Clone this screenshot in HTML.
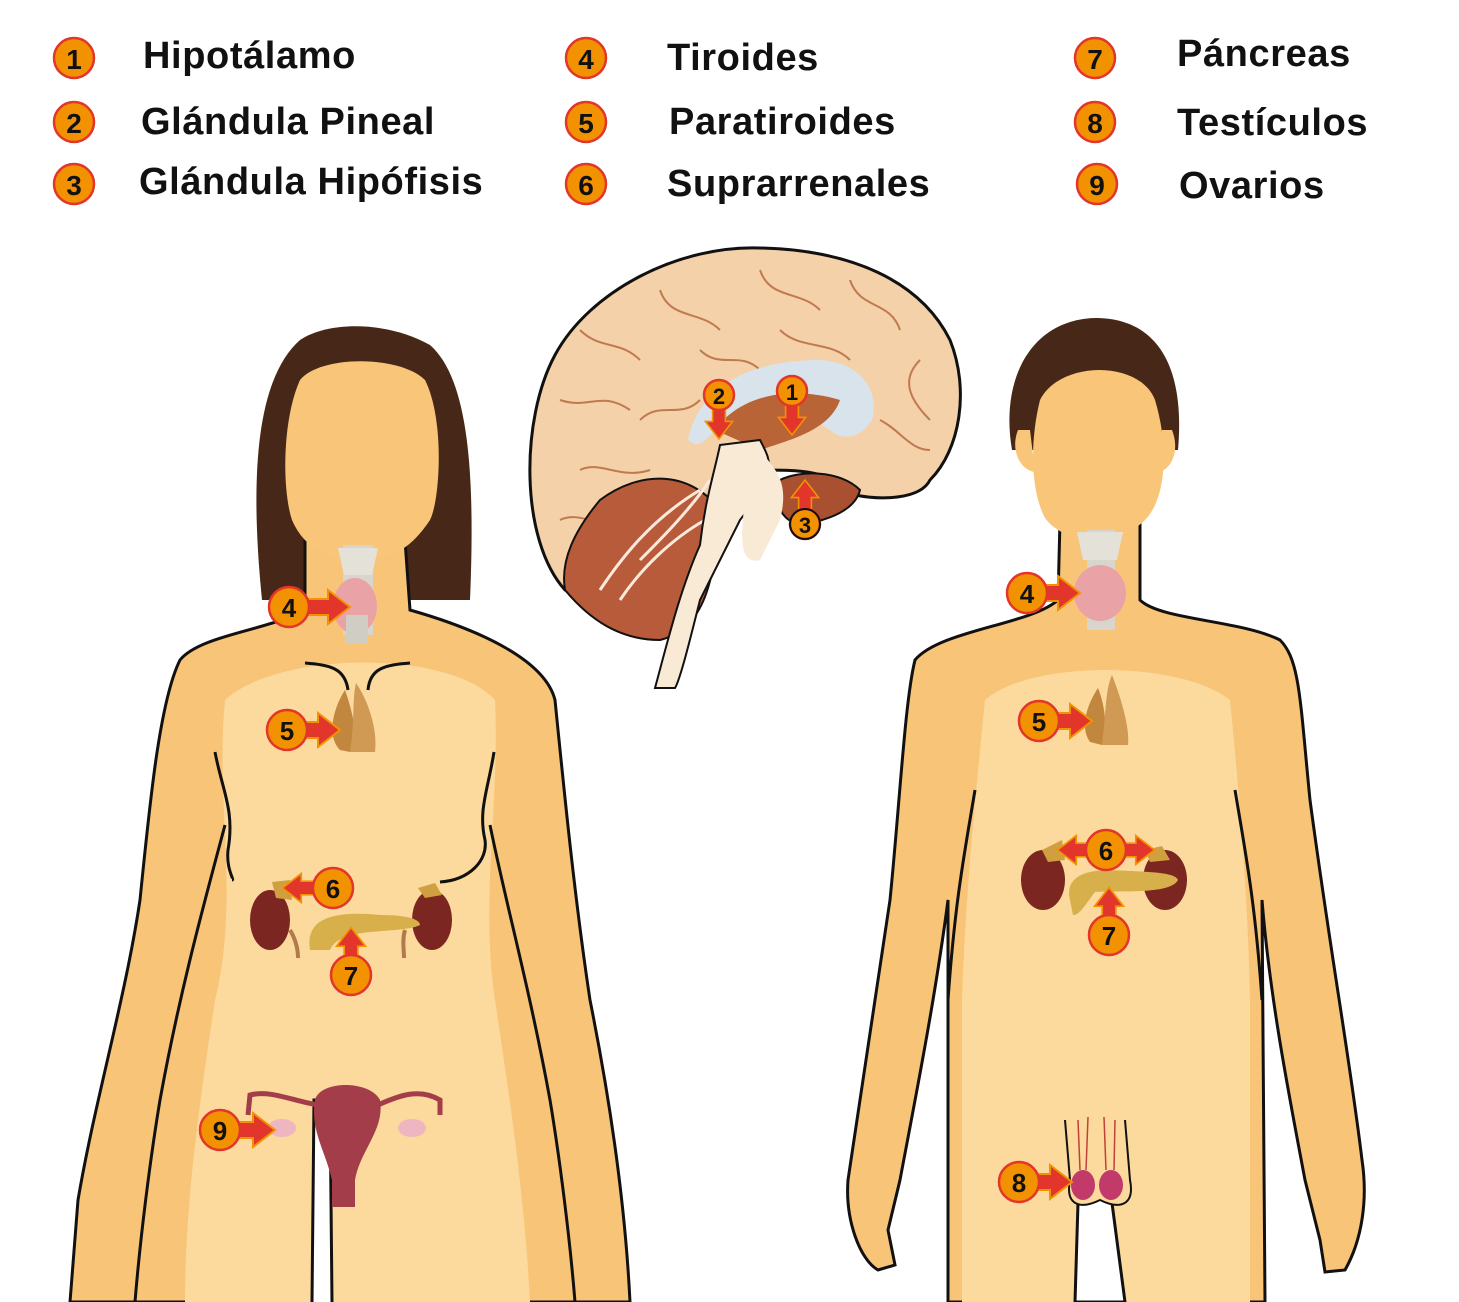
<!DOCTYPE html>
<html><head><meta charset="utf-8"><style>
html,body{margin:0;padding:0;background:#fff}
svg{display:block}
.lg{font-family:"Liberation Sans",sans-serif;font-weight:bold;font-size:38px;letter-spacing:0.6px;fill:#111}
.bn{font-family:"Liberation Sans",sans-serif;font-weight:bold;fill:#111;text-anchor:middle}
</style></head><body>
<svg width="1459" height="1302" viewBox="0 0 1459 1302" xmlns="http://www.w3.org/2000/svg">
<defs>
<g id="b"><circle r="20" fill="#f39200" stroke="#e2352b" stroke-width="2.5"/></g>
<g id="bs"><circle r="15" fill="#f39200" stroke="#e2352b" stroke-width="2.5"/></g>
<g id="ar"><polygon points="0,-8 28,-8 28,-17 50,0 28,17 28,8 0,8" fill="#e2352b" stroke="#f39200" stroke-width="2"/></g>
</defs>

<!-- legend -->
<use href="#b" x="74" y="58"/><text class="bn" x="74" y="69" font-size="28">1</text>
<use href="#b" x="74" y="122"/><text class="bn" x="74" y="133" font-size="28">2</text>
<use href="#b" x="74" y="184"/><text class="bn" x="74" y="195" font-size="28">3</text>
<text class="lg" x="143" y="68">Hipotálamo</text>
<text class="lg" x="141" y="134">Glándula Pineal</text>
<text class="lg" x="139" y="194">Glándula Hipófisis</text>
<use href="#b" x="586" y="58"/><text class="bn" x="586" y="69" font-size="28">4</text>
<use href="#b" x="586" y="122"/><text class="bn" x="586" y="133" font-size="28">5</text>
<use href="#b" x="586" y="184"/><text class="bn" x="586" y="195" font-size="28">6</text>
<text class="lg" x="667" y="70">Tiroides</text>
<text class="lg" x="669" y="134">Paratiroides</text>
<text class="lg" x="667" y="196">Suprarrenales</text>
<use href="#b" x="1095" y="58"/><text class="bn" x="1095" y="69" font-size="28">7</text>
<use href="#b" x="1095" y="122"/><text class="bn" x="1095" y="133" font-size="28">8</text>
<use href="#b" x="1097" y="184"/><text class="bn" x="1097" y="195" font-size="28">9</text>
<text class="lg" x="1177" y="66">Páncreas</text>
<text class="lg" x="1177" y="135">Testículos</text>
<text class="lg" x="1179" y="198">Ovarios</text>

<!-- ===== WOMAN ===== -->
<path d="M262,600 C250,480 255,380 300,340 C330,320 390,322 430,345 C470,380 475,480 470,600 Z" fill="#472818"/>
<path d="M305,540 L305,610 C270,630 200,635 180,660 C160,700 150,800 140,900 C125,1000 95,1100 78,1200 L70,1302 L630,1302 C625,1200 610,1100 590,1000 C575,900 565,800 555,700 C545,660 480,630 410,610 L405,540 Z" fill="#f8c477" stroke="#111" stroke-width="3"/>
<path d="M225,700 C215,800 240,900 215,1000 C200,1100 185,1200 185,1302 L530,1302 C525,1200 510,1100 495,1000 C480,900 500,800 495,700 C450,650 280,650 225,700 Z" fill="#fcd99c"/>
<path d="M315,1100 L330,1100 L332,1302 L312,1302 Z" fill="#fff"/>
<path d="M312,1302 L314,1100 L330,1100 L332,1302" fill="none" stroke="#111" stroke-width="3"/>
<path d="M215,752 C222,790 235,810 228,850 C226,870 235,880 232,880" fill="none" stroke="#111" stroke-width="3"/>
<path d="M494,752 C488,790 478,810 485,840 C488,860 470,880 440,882" fill="none" stroke="#111" stroke-width="3"/>
<path d="M225,825 C205,900 180,990 160,1100 C150,1160 140,1240 135,1302" fill="none" stroke="#111" stroke-width="3"/>
<path d="M490,825 C505,900 530,990 550,1100 C560,1160 570,1240 575,1302" fill="none" stroke="#111" stroke-width="3"/>
<path d="M305,663 C330,665 345,668 348,690 M410,663 C385,665 370,668 368,690" fill="none" stroke="#111" stroke-width="3"/>
<path d="M300,380 C320,355 400,355 425,380 C445,420 440,500 430,520 C410,550 390,560 360,560 C330,560 305,550 292,520 C282,490 282,420 300,380 Z" fill="#f9c679"/>
<path d="M296,355 L335,330 L360,345 L350,360 Z" fill="#472818"/>
<!-- thyroid woman -->
<rect x="343" y="545" width="30" height="90" fill="#d8d5cc"/>
<path d="M338,548 L378,548 L372,575 L344,575 Z" fill="#e4e1d8"/>
<ellipse cx="355" cy="606" rx="22" ry="28" fill="#e9a3a6"/>
<rect x="346" y="615" width="22" height="28" fill="#d0cdc4"/>
<!-- parathyroid woman -->
<path d="M340,750 C325,735 335,705 345,690 C352,710 360,740 350,752 Z" fill="#c2873f"/>
<path d="M350,752 C355,720 352,700 356,683 C368,700 378,730 375,752 Z" fill="#d09a55"/>
<!-- kidneys woman -->
<ellipse cx="270" cy="920" rx="20" ry="30" fill="#7c2621"/>
<ellipse cx="432" cy="920" rx="20" ry="30" fill="#7c2621"/>
<path d="M272,882 L290,880 L292,900 L276,898 Z" fill="#d0a040"/>
<path d="M418,888 L435,883 L442,895 L425,898 Z" fill="#d0a040"/>
<path d="M310,950 C305,920 330,910 380,915 C410,915 420,920 420,925 C400,935 340,925 330,950 Z" fill="#d7b04c"/>
<path d="M405,930 C402,940 404,950 404,958 M290,930 C296,940 298,950 298,958" stroke="#b07a4a" stroke-width="4" fill="none"/>
<!-- uterus -->
<path d="M315,1100 C320,1080 370,1080 380,1100 C385,1130 360,1150 355,1180 L355,1207 L332,1207 L332,1180 C325,1150 310,1130 315,1100 Z" fill="#a33d4a"/>
<path d="M318,1105 C290,1100 270,1090 250,1095 L248,1115 M378,1105 C400,1095 420,1088 440,1100 L440,1115" stroke="#a33d4a" stroke-width="5" fill="none"/>
<ellipse cx="282" cy="1128" rx="14" ry="9" fill="#eeb6c0"/>
<ellipse cx="412" cy="1128" rx="14" ry="9" fill="#eeb6c0"/>

<!-- ===== MAN ===== -->
<path d="M1012,450 C1000,380 1030,320 1095,318 C1160,318 1185,370 1178,450 Z" fill="#472818"/>
<path d="M1060,520 L1058,600 C1030,625 940,630 915,660 C905,700 900,800 890,900 C875,1000 860,1100 848,1180 C845,1220 860,1260 878,1270 L895,1265 L888,1230 L900,1180 C915,1100 935,1000 948,900 L948,1302 L1265,1302 L1262,900 C1270,1000 1290,1100 1305,1180 L1320,1240 L1325,1272 L1345,1270 C1362,1240 1368,1200 1362,1160 C1350,1060 1330,950 1310,800 C1300,700 1300,660 1280,640 C1240,620 1160,620 1140,600 L1140,520 Z" fill="#f8c477" stroke="#111" stroke-width="3"/>
<path d="M985,700 C975,800 965,900 962,1000 L962,1302 L1250,1302 L1250,1000 C1248,900 1240,800 1230,700 C1180,660 1030,660 985,700 Z" fill="#fcd99c"/>
<path d="M975,790 C965,850 955,900 948,1000" fill="none" stroke="#111" stroke-width="3"/>
<path d="M1235,790 C1245,850 1255,900 1262,1000" fill="none" stroke="#111" stroke-width="3"/>
<path d="M1078,1203 C1085,1198 1100,1196 1112,1203 L1125,1302 L1075,1302 Z" fill="#fff" stroke="#111" stroke-width="3"/>
<path d="M1040,400 C1060,360 1140,360 1155,400 C1170,450 1165,500 1145,520 C1130,535 1110,540 1095,540 C1075,540 1055,532 1045,518 C1030,490 1030,440 1040,400 Z" fill="#f9c679"/>
<path d="M1018,430 C1010,450 1020,470 1035,472 L1030,430 Z M1172,430 C1180,450 1172,470 1158,472 L1162,430 Z" fill="#f9c679"/>
<!-- thyroid man -->
<rect x="1087" y="530" width="28" height="100" fill="#d8d5cc"/>
<path d="M1077,532 L1123,532 L1117,560 L1083,560 Z" fill="#e4e1d8"/>
<ellipse cx="1100" cy="593" rx="26" ry="28" fill="#e9a3a6"/>
<!-- parathyroid man -->
<path d="M1090,742 C1078,725 1090,700 1098,688 C1105,705 1108,730 1102,745 Z" fill="#c2873f"/>
<path d="M1102,745 C1106,715 1105,690 1112,675 C1122,700 1130,730 1128,745 Z" fill="#d09a55"/>
<!-- kidneys man -->
<ellipse cx="1043" cy="880" rx="22" ry="30" fill="#7c2621"/>
<ellipse cx="1165" cy="880" rx="22" ry="30" fill="#7c2621"/>
<path d="M1042,850 L1062,840 L1065,860 L1048,862 Z M1145,850 L1162,846 L1170,860 L1150,862 Z" fill="#d0a040"/>
<path d="M1070,900 C1065,880 1080,870 1110,870 C1150,872 1175,872 1178,880 C1170,895 1120,890 1095,892 C1085,905 1080,915 1073,915 Z" fill="#d7b04c"/>
<!-- testes -->
<path d="M1065,1120 L1070,1180 C1065,1205 1080,1210 1100,1200 C1120,1210 1135,1205 1130,1180 L1125,1120" fill="#fcd99c" stroke="#111" stroke-width="2"/>
<ellipse cx="1083" cy="1185" rx="12" ry="15" fill="#c23a6a"/>
<ellipse cx="1111" cy="1185" rx="12" ry="15" fill="#c23a6a"/>
<path d="M1078,1120 L1080,1170 M1088,1117 L1086,1170 M1104,1117 L1106,1170 M1115,1120 L1114,1170" stroke="#c0403a" stroke-width="1.5" fill="none"/>

<!-- ===== BRAIN ===== -->
<path d="M565,590 C520,540 520,420 555,355 C590,290 680,245 760,248 C850,250 920,280 950,340 C970,390 960,450 930,480 C920,500 880,500 855,495 C830,470 800,470 760,470 L720,500 C690,560 660,600 620,600 Z" fill="#f4d1a8" stroke="#111" stroke-width="3"/>
<g fill="none" stroke="#c07a50" stroke-width="2">
<path d="M580,330 C600,350 620,340 640,360 M660,290 C670,320 700,310 720,330 M760,270 C770,300 800,290 820,310 M850,280 C860,310 890,300 900,330 M920,360 C900,380 910,400 930,420 M560,400 C590,410 600,390 630,410 M580,470 C600,460 620,480 650,470 M640,420 C660,400 680,420 700,400 M780,330 C800,350 830,340 850,360 M700,350 C720,370 740,350 760,370 M560,520 C580,510 600,530 620,520 M880,420 C900,430 910,450 930,450"/>
</g>
<path d="M565,590 C590,620 620,640 660,640 C700,630 715,590 720,510 C690,470 640,470 600,500 C575,530 560,560 565,590 Z" fill="#b85b3a" stroke="#111" stroke-width="2"/>
<path d="M600,590 C620,560 650,520 700,490 M620,600 C640,570 670,540 705,520 M640,560 C660,540 690,510 710,480" stroke="#fbe9dc" stroke-width="3" fill="none"/>
<path d="M780,480 C800,470 840,470 860,490 C855,510 830,520 800,525 C780,520 772,500 780,480 Z" fill="#a8502f" stroke="#111" stroke-width="2"/>
<path d="M688,440 C700,380 760,360 820,360 C860,362 880,390 872,420 C860,440 840,440 830,430 C810,415 760,410 720,425 C705,440 700,450 688,440 Z" fill="#d9e3eb"/>
<path d="M715,430 C740,395 790,385 840,400 C830,430 790,440 760,450 Z" fill="#b86437"/>
<path d="M720,445 L760,440 C770,460 780,470 740,520 L700,600 C690,640 680,680 675,688 L655,688 C668,640 680,590 700,545 C705,500 715,470 720,445 Z" fill="#f8ead4" stroke="#111" stroke-width="2"/>
<path d="M760,450 C775,470 790,480 780,520 C770,540 765,550 760,560 C740,565 740,540 745,500 C750,480 755,465 760,450 Z" fill="#f8ead4"/>

<!-- ===== ARROWS + BADGES ===== -->
<use href="#ar" transform="translate(300,607)"/><use href="#b" x="289" y="607"/><text class="bn" x="289" y="617" font-size="26">4</text>
<use href="#ar" transform="translate(290,730)"/><use href="#b" x="287" y="730"/><text class="bn" x="287" y="740" font-size="26">5</text>
<use href="#ar" transform="translate(325,888) scale(-0.85,0.85)"/><use href="#b" x="333" y="888"/><text class="bn" x="333" y="898" font-size="26">6</text>
<use href="#ar" transform="translate(351,970) rotate(-90) scale(0.85)"/><use href="#b" x="351" y="975"/><text class="bn" x="351" y="985" font-size="26">7</text>
<use href="#ar" transform="translate(225,1130)"/><use href="#b" x="220" y="1130"/><text class="bn" x="220" y="1140" font-size="26">9</text>

<use href="#ar" transform="translate(1030,593)"/><use href="#b" x="1027" y="593"/><text class="bn" x="1027" y="603" font-size="26">4</text>
<use href="#ar" transform="translate(1042,721)"/><use href="#b" x="1039" y="721"/><text class="bn" x="1039" y="731" font-size="26">5</text>
<use href="#ar" transform="translate(1100,850) scale(-0.85,0.85)"/><use href="#ar" transform="translate(1112,850) scale(0.85)"/><use href="#b" x="1106" y="850"/><text class="bn" x="1106" y="860" font-size="26">6</text>
<use href="#ar" transform="translate(1109,930) rotate(-90) scale(0.85)"/><use href="#b" x="1109" y="935"/><text class="bn" x="1109" y="945" font-size="26">7</text>
<use href="#ar" transform="translate(1022,1182)"/><use href="#b" x="1019" y="1182"/><text class="bn" x="1019" y="1192" font-size="26">8</text>

<use href="#ar" transform="translate(792,395) rotate(90) scale(0.8)"/><use href="#bs" x="792" y="391"/><text class="bn" x="792" y="400" font-size="22">1</text>
<use href="#ar" transform="translate(719,399) rotate(90) scale(0.8)"/><use href="#bs" x="719" y="395"/><text class="bn" x="719" y="404" font-size="22">2</text>
<use href="#ar" transform="translate(805,520) rotate(-90) scale(0.8)"/><use href="#bs" x="805" y="524"/><circle cx="805" cy="524" r="15" fill="none" stroke="#111" stroke-width="2"/><text class="bn" x="805" y="533" font-size="22">3</text>
</svg>
</body></html>
